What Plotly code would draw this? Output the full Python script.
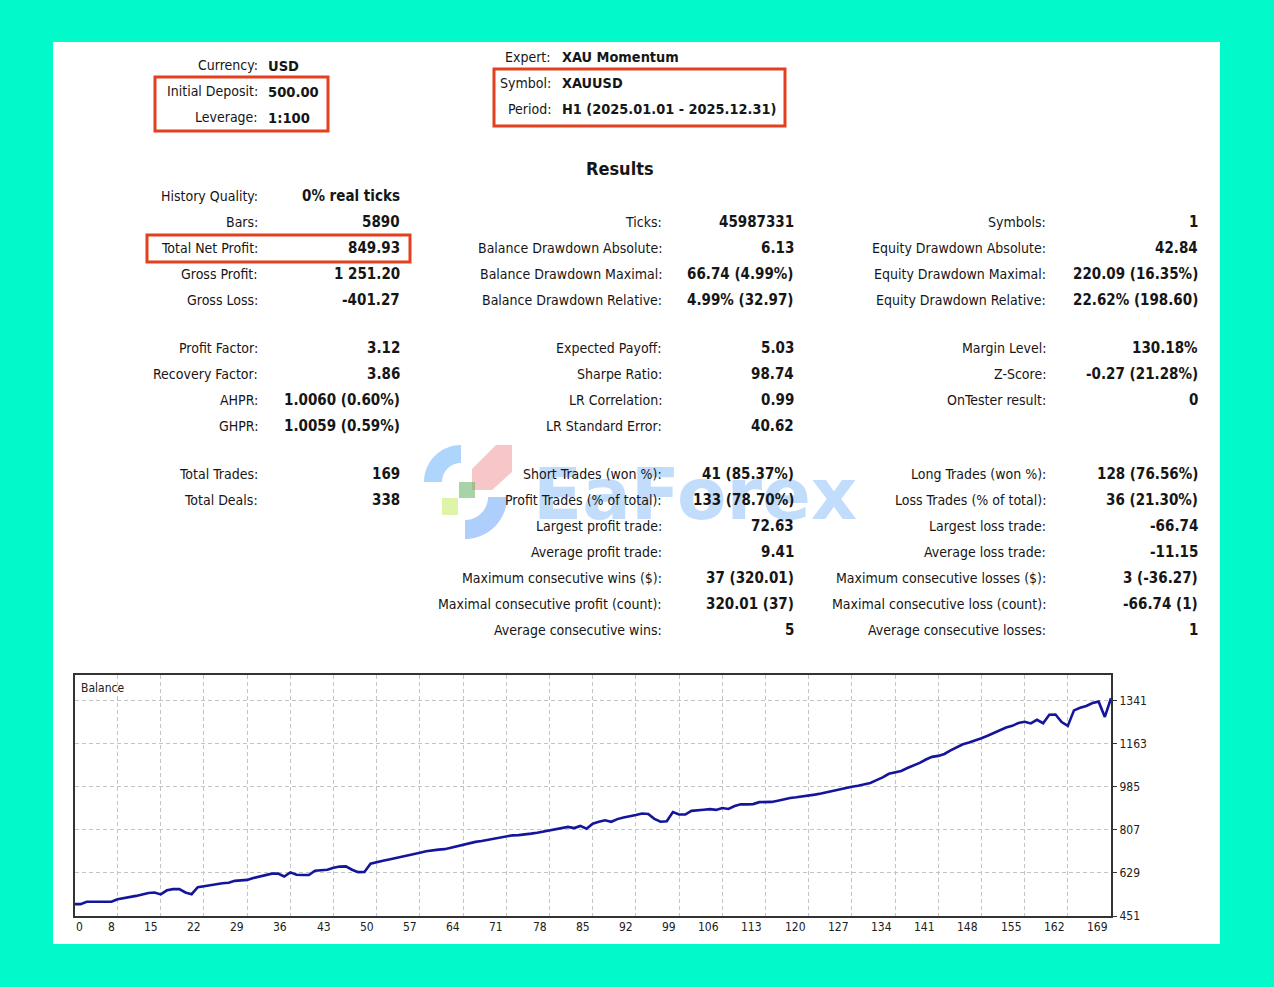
import numpy as np
import plotly.graph_objects as go

# ---------------- data ----------------
trade_index = list(range(170))
balance = [
    500, 500, 500, 510, 510, 510, 510, 510, 520, 524,
    530, 534, 540, 546, 548, 540, 557, 562, 562, 548,
    541, 570, 574, 578, 584, 586, 588, 596, 598, 600,
    608, 613, 620, 626, 626, 614, 631, 621, 620, 620,
    638, 641, 642, 650, 655, 656, 642, 632, 633, 667,
    674, 679, 684, 689, 697, 701, 707, 712, 718, 723,
    725, 727, 733, 741, 746, 752, 757, 761, 766, 772,
    777, 780, 784, 785, 787, 791, 795, 800, 805, 810,
    814, 819, 814, 823, 811, 832, 840, 846, 840, 851,
    858, 862, 868, 874, 872, 852, 840, 842, 880, 870,
    870, 885, 886, 890, 892, 889, 897, 893, 905, 912,
    912, 913, 921, 922, 922, 927, 933, 938, 941, 944,
    947, 952, 957, 963, 967, 973, 979, 985, 989, 993,
    1000, 1012, 1023, 1038, 1045, 1050, 1062, 1072, 1083, 1097,
    1108, 1112, 1120, 1135, 1148, 1160, 1167, 1175, 1185, 1195,
    1207, 1220, 1229, 1236, 1248, 1253, 1246, 1261, 1247, 1282,
    1283, 1252, 1236, 1300, 1311, 1318, 1330, 1336, 1273, 1350,
]
x_tick_vals = [8, 15, 22, 29, 36, 43, 50, 57, 64, 71, 78, 85, 92, 99, 106,
               113, 120, 127, 134, 141, 148, 155, 162, 169]
y_tick_vals = [451, 629, 807, 985, 1163, 1341]
chart_title = "Balance"

header_left_labels = ["Currency:", "Initial Deposit:", "Leverage:"]
header_left_values = ["USD", "500.00", "1:100"]
header_right_labels = ["Expert:", "Symbol:", "Period:"]
header_right_values = ["XAU Momentum", "XAUUSD", "H1 (2025.01.01 - 2025.12.31)"]
results_title = "Results"

col1_labels = ["History Quality:", "Bars:", "Total Net Profit:", "Gross Profit:", "Gross Loss:",
               "Profit Factor:", "Recovery Factor:", "AHPR:", "GHPR:",
               "Total Trades:", "Total Deals:", None, None, None, None, None]
col1_values = ["0% real ticks", "5890", "849.93", "1 251.20", "-401.27",
               "3.12", "3.86", "1.0060 (0.60%)", "1.0059 (0.59%)",
               "169", "338", None, None, None, None, None]
col2_labels = [None, "Ticks:", "Balance Drawdown Absolute:", "Balance Drawdown Maximal:",
               "Balance Drawdown Relative:", "Expected Payoff:", "Sharpe Ratio:",
               "LR Correlation:", "LR Standard Error:", "Short Trades (won %):",
               "Profit Trades (% of total):", "Largest profit trade:", "Average profit trade:",
               "Maximum consecutive wins ($):", "Maximal consecutive profit (count):",
               "Average consecutive wins:"]
col2_values = [None, "45987331", "6.13", "66.74 (4.99%)", "4.99% (32.97)", "5.03", "98.74",
               "0.99", "40.62", "41 (85.37%)", "133 (78.70%)", "72.63", "9.41",
               "37 (320.01)", "320.01 (37)", "5"]
col3_labels = [None, "Symbols:", "Equity Drawdown Absolute:", "Equity Drawdown Maximal:",
               "Equity Drawdown Relative:", "Margin Level:", "Z-Score:", "OnTester result:",
               None, "Long Trades (won %):", "Loss Trades (% of total):", "Largest loss trade:",
               "Average loss trade:", "Maximum consecutive losses ($):",
               "Maximal consecutive loss (count):", "Average consecutive losses:"]
col3_values = [None, "1", "42.84", "220.09 (16.35%)", "22.62% (198.60)", "130.18%",
               "-0.27 (21.28%)", "0", None, "128 (76.56%)", "36 (21.30%)", "-66.74",
               "-11.15", "3 (-36.27)", "-66.74 (1)", "1"]
watermark = "EaForex"

# ---------------- layout helpers ----------------
W, H = 1274, 987
PL, PR, PT, PB = 75, 1111, 675, 916
TEAL = "#02FACB"


def xp(px):
    return (px - PL) / (PR - PL)


def yp(py):
    return (PB - py) / (PB - PT)


FONT = "DejaVu Sans Condensed, Liberation Sans, sans-serif"
TXT = "#161616"
RED = "#E2401F"

annotations = []
shapes = []


def text(s, px, py, anchor, size=14, bold=False, color=TXT):
    if anchor == "right":
        px += 2
    annotations.append(dict(
        text=("<b>%s</b>" % s) if bold else s,
        x=xp(px), y=yp(py), xref="paper", yref="paper",
        xanchor=anchor, yanchor="middle", showarrow=False,
        font=dict(family=FONT, size=size, color=color),
    ))


def poly(points):
    return "M " + " L ".join("%.5f,%.5f" % (xp(a), yp(b)) for a, b in points) + " Z"


def ring(cx, cy, r_out, r_in, a0, a1):
    ang = np.linspace(a0, a1, 30)
    outer = [(cx + r_out * np.cos(a), cy - r_out * np.sin(a)) for a in ang]
    inner = [(cx + r_in * np.cos(a), cy - r_in * np.sin(a)) for a in ang[::-1]]
    return poly(outer + inner)


# background panel
shapes.append(dict(type="rect", xref="paper", yref="paper",
                   x0=xp(53), x1=xp(1220), y0=yp(944), y1=yp(42),
                   fillcolor="white", line=dict(width=0), layer="below"))

# watermark logo (decorative, drawn first)
shapes.append(dict(type="path", xref="paper", yref="paper",
                   path=ring(461, 482, 37, 19, np.pi / 2, np.pi),
                   fillcolor="rgba(120,185,250,0.6)", line=dict(width=0), layer="above"))
shapes.append(dict(type="path", xref="paper", yref="paper",
                   path=ring(465, 497, 42, 23, -np.pi / 2, 0),
                   fillcolor="rgba(120,175,250,0.6)", line=dict(width=0), layer="above"))
shapes.append(dict(type="path", xref="paper", yref="paper",
                   path=poly([(472, 469), (496, 445), (512, 445), (512, 472), (492, 490), (472, 490)]),
                   fillcolor="rgba(242,160,165,0.6)", line=dict(width=0), layer="above"))
shapes.append(dict(type="rect", xref="paper", yref="paper",
                   x0=xp(459), x1=xp(475), y0=yp(498), y1=yp(482),
                   fillcolor="rgba(110,180,110,0.6)", line=dict(width=0), layer="above"))
shapes.append(dict(type="rect", xref="paper", yref="paper",
                   x0=xp(442), x1=xp(458), y0=yp(515), y1=yp(498),
                   fillcolor="rgba(205,238,120,0.65)", line=dict(width=0), layer="above"))
annotations.append(dict(text="<b>%s</b>" % watermark, x=xp(695), y=yp(494), xref="paper",
                        yref="paper", xanchor="center", yanchor="middle", showarrow=False,
                        font=dict(family="DejaVu Sans", size=72, color="rgba(110,175,245,0.42)")))

# header
for lab, val, py in zip(header_left_labels, header_left_values, [65, 91, 117]):
    text(lab, 258, py, "right")
    text(val, 266, py, "left", size=14.6, bold=True)
for lab, val, py in zip(header_right_labels, header_right_values, [57, 83, 109]):
    text(lab, 551, py, "right")
    text(val, 560, py, "left", size=14.4, bold=True)
text(results_title, 620, 168, "center", size=18, bold=True)

row_y = [196, 222, 248, 274, 300, 348, 374, 400, 426, 474, 500, 526, 552, 578, 604, 630]
columns = [
    (col1_labels, col1_values, 258, 400),
    (col2_labels, col2_values, 662, 794),
    (col3_labels, col3_values, 1046, 1198),
]
for labels, values, lx, vx in columns:
    for lab, val, py in zip(labels, values, row_y):
        if lab:
            text(lab, lx, py, "right")
        if val:
            text(val, vx, py, "right", size=15, bold=True)

# red highlight boxes
for x0, x1, y0, y1 in [(155, 328, 77, 131), (494, 785, 69, 126), (147, 410, 235, 262)]:
    shapes.append(dict(type="rect", xref="paper", yref="paper",
                       x0=xp(x0), x1=xp(x1), y0=yp(y1), y1=yp(y0),
                       line=dict(color=RED, width=3), fillcolor="rgba(0,0,0,0)", layer="above"))

# chart labels
annotations.append(dict(text=chart_title, x=xp(79), y=yp(679), xref="paper", yref="paper",
                        xanchor="left", yanchor="top", showarrow=False,
                        font=dict(family=FONT, size=12, color="#202020")))
annotations.append(dict(text="0", x=xp(74), y=0, xref="paper", yref="paper",
                        xanchor="left", yanchor="top", yshift=-2, showarrow=False,
                        font=dict(family=FONT, size=12, color="#202020")))
for v in x_tick_vals:
    annotations.append(dict(text=str(v), x=v, y=0, xref="x", yref="paper",
                            xanchor="right", yanchor="top", yshift=-2, xshift=-1,
                            showarrow=False, font=dict(family=FONT, size=12, color="#202020")))

fig = go.Figure()
fig.add_trace(go.Scatter(x=trade_index, y=balance, mode="lines",
                         line=dict(color="#15159c", width=2.6), hoverinfo="skip",
                         showlegend=False))

fig.update_layout(
    width=W, height=H,
    margin=dict(l=PL, r=W - PR, t=PT, b=H - PB, pad=0),
    paper_bgcolor=TEAL,
    plot_bgcolor="white",
    shapes=shapes,
    annotations=annotations,
    showlegend=False,
    xaxis=dict(range=[1.1, 169], tickvals=x_tick_vals, showticklabels=False,
               showgrid=True, gridcolor="#c4c4c4", griddash="4px,3px", gridwidth=1,
               zeroline=False, showline=True, mirror=True, linecolor="#333333",
               linewidth=2, ticks=""),
    yaxis=dict(range=[451, 1446], tickvals=y_tick_vals, side="right",
               showgrid=True, gridcolor="#c4c4c4", griddash="4px,3px", gridwidth=1,
               zeroline=False, showline=True, mirror=True, linecolor="#333333",
               linewidth=2, ticks="outside", ticklen=4, tickcolor="#333333",
               tickfont=dict(family=FONT, size=12, color="#202020")),
)

fig.write_html(
    "out.html",
    config={"displayModeBar": False, "staticPlot": True},
    post_script="document.body.style.margin='0';document.body.style.overflow='hidden';"
                "document.body.style.background='%s';" % TEAL,
)
